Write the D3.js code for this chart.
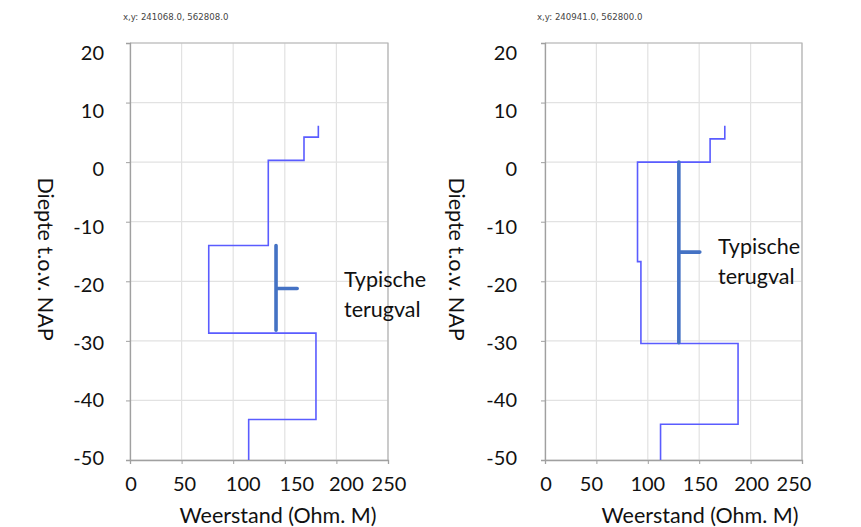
<!DOCTYPE html>
<html>
<head>
<meta charset="utf-8">
<script src="https://cdn.jsdelivr.net/npm/d3@7"></script>
<style>
  html, body { margin: 0; padding: 0; background: #fff; }
  svg { display: block; font-family: Lato, "Open Sans", sans-serif; }
</style>
</head>
<body>
<svg id="chart" width="861" height="527"></svg>
<script>
// Resistivity profiles for two sounding locations (resistance vs depth relative to NAP)
const locations = ["x,y: 241068.0, 562808.0", "x,y: 240941.0, 562800.0"];

// Layer boundaries (m t.o.v. NAP), top to bottom, one more entry than resistance values
const leftDepths = [6.1, 4.2, 0.3, -14.0, -28.7, -43.2, -50];
const leftResistance = [182.5, 168.6, 134, 76.3, 180.2, 115];

const rightDepths = [6.1, 3.9, 0.0, -16.7, -30.45, -44.0, -50];
const rightResistance = [174.9, 160.6, 90, 93.3, 187.8, 112.4];

// "Typische terugval" markers: resistance, top depth, bottom depth, marker depth, marker end
const leftDrop = { value: 141.5, top: -14.0, bottom: -28.2, mid: -21.2, tip: 162 };
const rightDrop = { value: 130.2, top: 0.0, bottom: -30.3, mid: -15.1, tip: 150.6 };

const xTicks = [0, 50, 100, 150, 200, 250];
const yTicks = [20, 10, 0, -10, -20, -30, -40, -50];
const xTitle = "Weerstand (Ohm. M)";
const yTitle = "Diepte t.o.v. NAP";
const noteLines = ["Typische", "terugval"];

const svg = d3.select("#chart");
const FS = 21.5;      // titles and annotation
const TICK_FS = 20;   // tick labels

const panels = [
  {
    label: locations[0], depths: leftDepths, values: leftResistance, drop: leftDrop,
    left: 130, right: 388, labelX: 123,
    yLabelRight: 104, yTitleX: 38,
    xLabelNudge: [1, 3, 10, 12, 10, 1],
    xTitleX: 278, noteX: 344, noteY: 287
  },
  {
    label: locations[1], depths: rightDepths, values: rightResistance, drop: rightDrop,
    left: 545, right: 802, labelX: 537,
    yLabelRight: 517, yTitleX: 449,
    xLabelNudge: [1, -5, 0, 1, 1, -8],
    xTitleX: 700, noteX: 718, noteY: 254
  }
];

const plotTop = 43, plotBottom = 460;

panels.forEach(p => {
  const g = svg.append("g");
  const x = d3.scaleLinear().domain([0, 250]).range([p.left, p.right]);
  const y = d3.scaleLinear().domain([-50, 20]).range([plotBottom, plotTop]);
  // tick labels sit on a slightly compressed ladder
  const yLab = d3.scaleLinear().domain([20, -50]).range([53, 458]);

  // location header
  g.append("text")
    .attr("x", p.labelX).attr("y", 20)
    .attr("font-family", "DejaVu Sans, sans-serif")
    .attr("font-size", 8.6).attr("fill", "#444")
    .text(p.label);

  // gridlines
  g.append("g").selectAll("line").data(xTicks).join("line")
    .attr("x1", d => x(d)).attr("x2", d => x(d))
    .attr("y1", plotTop).attr("y2", plotBottom)
    .attr("stroke", "#e2e2e2").attr("stroke-width", 1.2);
  g.append("g").selectAll("line").data(yTicks).join("line")
    .attr("x1", p.left).attr("x2", p.right)
    .attr("y1", d => y(d)).attr("y2", d => y(d))
    .attr("stroke", "#e2e2e2").attr("stroke-width", 1.2);

  // frame: top and right border
  g.append("path")
    .attr("d", `M${p.left},${plotTop}H${p.right}V${plotBottom}`)
    .attr("fill", "none").attr("stroke", "#b4b4b4").attr("stroke-width", 1.2);

  // axes (lines + tick marks, labels drawn separately)
  const yAxis = d3.axisLeft(y).tickValues(yTicks).tickSize(4).tickFormat("");
  const yAxisG = g.append("g").attr("transform", `translate(${p.left},0)`).call(yAxis);
  const xAxis = d3.axisBottom(x).tickValues(xTicks).tickSize(4).tickFormat("");
  const xAxisG = g.append("g").attr("transform", `translate(0,${plotBottom})`).call(xAxis);
  [yAxisG, xAxisG].forEach(a => {
    a.select(".domain").attr("stroke", "#a0a0a0").attr("stroke-width", 1.3);
    a.selectAll(".tick line").attr("stroke", "#a0a0a0");
  });

  // tick labels
  g.append("g").selectAll("text").data(yTicks).join("text")
    .attr("x", p.yLabelRight).attr("y", d => yLab(d) + 7.3)
    .attr("text-anchor", "end").attr("font-size", TICK_FS).attr("fill", "#111")
    .text(d => d);
  g.append("g").selectAll("text").data(xTicks).join("text")
    .attr("x", (d, i) => x(d) + p.xLabelNudge[i]).attr("y", 490.5)
    .attr("text-anchor", "middle").attr("font-size", TICK_FS).attr("fill", "#111")
    .text(d => d);

  // axis titles
  g.append("text")
    .attr("x", p.xTitleX).attr("y", 523)
    .attr("text-anchor", "middle").attr("font-size", FS).attr("fill", "#111")
    .text(xTitle);
  g.append("text")
    .attr("transform", `translate(${p.yTitleX},259) rotate(90)`)
    .attr("text-anchor", "middle").attr("font-size", FS).attr("fill", "#111")
    .text(yTitle);

  // step profile: each layer is a vertical segment at its resistance
  const pts = [];
  p.values.forEach((v, i) => {
    pts.push([v, p.depths[i]]);
    pts.push([v, p.depths[i + 1]]);
  });
  g.append("path")
    .datum(pts)
    .attr("d", d3.line().x(d => x(d[0])).y(d => y(d[1])))
    .attr("fill", "none").attr("stroke", "#5a5cff").attr("stroke-width", 1.6);

  // typical drop marker
  const dr = p.drop;
  g.append("path")
    .attr("d", `M${x(dr.value)},${y(dr.top)}V${y(dr.bottom)}M${x(dr.value)},${y(dr.mid)}H${x(dr.tip)}`)
    .attr("fill", "none").attr("stroke", "#4472c4").attr("stroke-width", 3.6)
    .attr("stroke-linecap", "round");

  // marker annotation
  g.append("text")
    .attr("x", p.noteX).attr("y", p.noteY)
    .attr("font-size", FS).attr("fill", "#111")
    .selectAll("tspan").data(noteLines).join("tspan")
    .attr("x", p.noteX).attr("dy", (d, i) => i === 0 ? 0 : 30)
    .text(d => d);
});
</script>
</body>
</html>
